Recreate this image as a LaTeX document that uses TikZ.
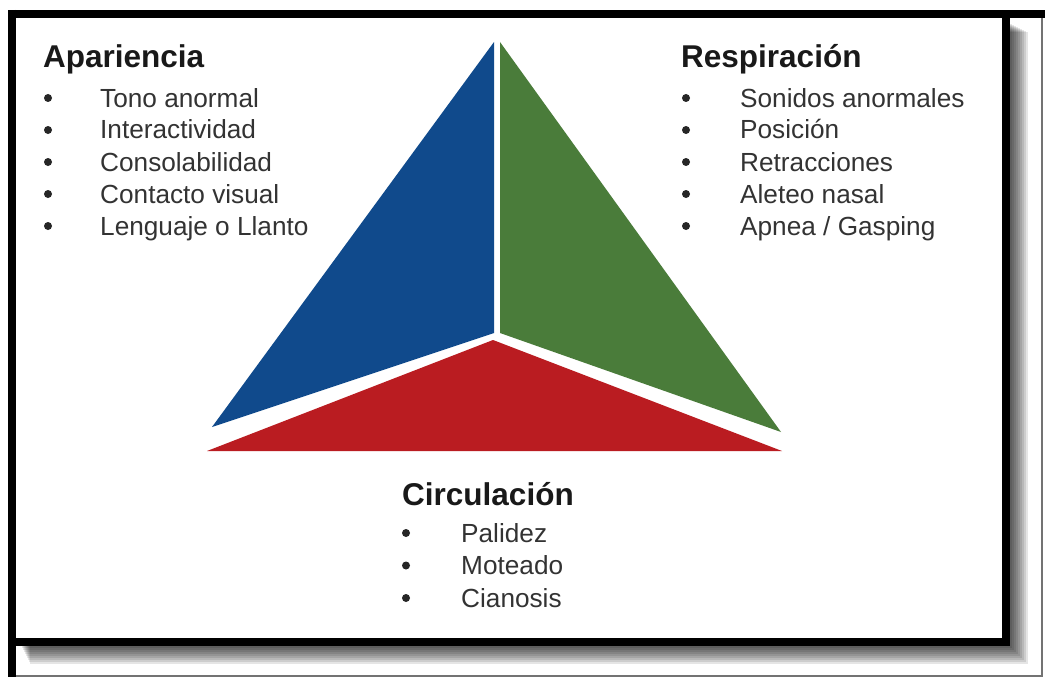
\documentclass[tikz,border=0pt]{standalone}
\usepackage{fontspec}
\setmainfont{Liberation Sans}
\definecolor{apablue}{RGB}{16,74,140}
\definecolor{resgreen}{RGB}{74,124,58}
\definecolor{cirred}{RGB}{186,28,33}
\begin{document}
\begin{tikzpicture}[x=1pt,y=-1pt,
    titulo/.style={anchor=base west,inner sep=0pt,text=black!90,font=\fontsize{31.5}{36}\selectfont\bfseries},
    punto/.style={anchor=base west,inner sep=0pt,text=black!80,font=\fontsize{26.2}{30}\selectfont}]
            
            \useasboundingbox (0,0) rectangle (1045,677);
            \fill[white] (0,0) rectangle (1045,677);
            
            % sombra del marco
            \foreach \k in {1,...,10}
                \fill[black,opacity=0.1] (20+\k,22+\k) rectangle (1008+2*\k,644+2*\k);
            \fill[white] (12,14) rectangle (1006,642);
            
            \draw[black!55,line width=1.5pt] (1042,14) -- (1042,676) -- (12,676);
            \draw[line width=8pt] (12,10) -- (12,677);
            \draw[line width=8pt] (8,14) -- (1045,14);
            \draw[line width=8pt] (8,642) -- (1006,642) -- (1006,10);
            
            % triangulo
            \fill[color=apablue]  (494,42) -- (494,333) -- (212,427) -- cycle;
            \fill[color=resgreen] (500,42) -- (781,432) -- (500,333) -- cycle;
            \fill[color=cirred]   (493,340) -- (782,451) -- (207,451) -- cycle;
            
            \node[titulo] (apariencia) at (43,67) {Apariencia};
            \foreach \t [count=\i] in {Tono anormal,Interactividad,Consolabilidad,Contacto visual,Lenguaje o Llanto}{
                \fill[black!85] (48,98+32*\i-32) circle[radius=4pt];
                \node[punto] (ap-\i) at (100,107+32*\i-32) {\t};
            }
            
            \node[titulo] (respiracion) at (681,67) {Respiración};
            \foreach \t [count=\i] in {Sonidos anormales,Posición,Retracciones,Aleteo nasal,Apnea / Gasping}{
                \fill[black!85] (686,98+32*\i-32) circle[radius=4pt];
                \node[punto] (re-\i) at (740,107+32*\i-32) {\t};
            }
            
            \node[titulo] (circulacion) at (402,505) {Circulación};
            \foreach \t [count=\i] in {Palidez,Moteado,Cianosis}{
                \fill[black!85] (406,533+32.5*\i-32.5) circle[radius=4pt];
                \node[punto] (ci-\i) at (461,542+32.5*\i-32.5) {\t};
            }
            
        \end{tikzpicture}
\end{document}
